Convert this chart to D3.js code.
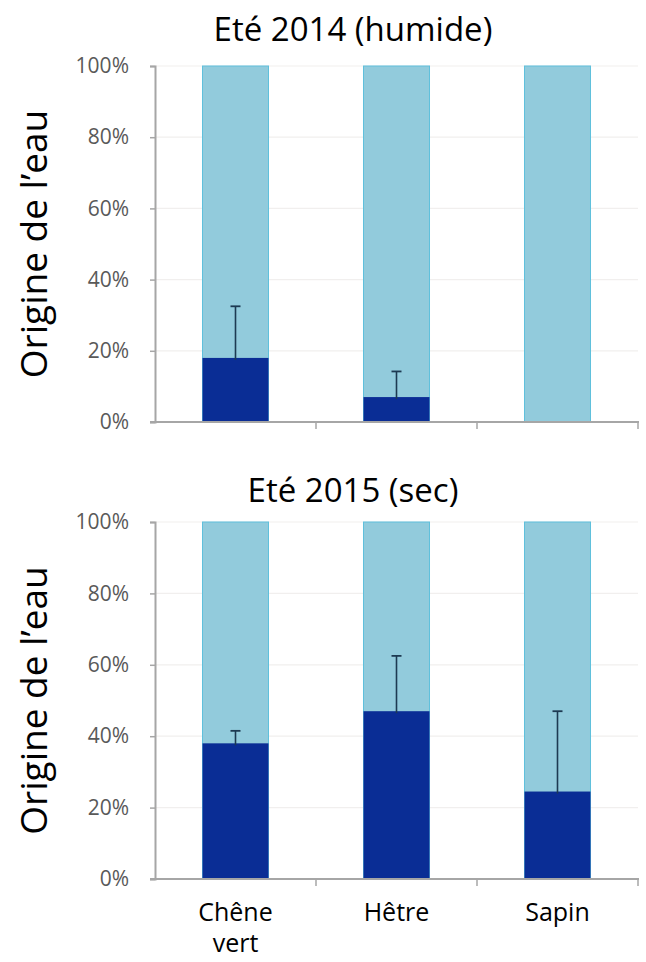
<!DOCTYPE html>
<html>
<head>
<meta charset="utf-8">
<script src="https://cdn.jsdelivr.net/npm/d3@7"></script>
<style>
  html, body { margin: 0; padding: 0; background: #fff; }
  svg { display: block; }
  text { font-family: "Open Sans", "Noto Sans", sans-serif; }
</style>
</head>
<body>
<svg id="chart" width="646" height="962"></svg>
<script>
// Species on the x axis
const categories = ["Chêne vert", "Hêtre", "Sapin"];
// Share of water from the deep source (dark part of each bar), in %
const summer2014 = [18, 7, 0];
const summer2015 = [38, 47, 24.5];
// Top of the error bar, in %
const err2014 = [32.5, 14.2, null];
const err2015 = [41.5, 62.5, 47];
// Y axis ticks
const yTicks = [0, 20, 40, 60, 80, 100];
const titles = ["Eté 2014 (humide)", "Eté 2015 (sec)"];
const yLabel = "Origine de l\u2019eau";

const svg = d3.select("#chart");

const colLight = "#92cbdc";
const colLightEdge = "#5fc0dc";
const colDark = "#0a2d95";
const colErr = "#1d3a52";
const colAxis = "#a6a6a6";
const colTick = "#595959";

const x = d3.scaleBand()
  .domain(categories)
  .range([155, 638])
  .paddingInner(0.59)
  .paddingOuter(0.295);

function panel(cfg) {
  const y = d3.scaleLinear().domain([0, 100]).range([cfg.bottom, cfg.top]);
  const g = svg.append("g");

  // faint horizontal gridlines
  g.selectAll("line.grid")
    .data(yTicks.filter(d => d > 0))
    .join("line")
    .attr("x1", 155).attr("x2", 638)
    .attr("y1", d => y(d)).attr("y2", d => y(d))
    .attr("stroke", "#f1efee").attr("stroke-width", 1.2);

  // full-height light bars
  g.selectAll("rect.light")
    .data(categories)
    .join("rect")
    .attr("x", d => x(d))
    .attr("width", x.bandwidth())
    .attr("y", y(100))
    .attr("height", y(0) - y(100))
    .attr("fill", colLight)
    .attr("stroke", colLightEdge)
    .attr("stroke-width", 1);

  // dark stacked part
  g.selectAll("rect.dark")
    .data(categories)
    .join("rect")
    .attr("x", d => x(d))
    .attr("width", x.bandwidth())
    .attr("y", (d, i) => y(cfg.values[i]))
    .attr("height", (d, i) => y(0) - y(cfg.values[i]))
    .attr("fill", colDark);

  // error bars (upper whisker)
  const eb = g.selectAll("g.err")
    .data(categories.map((c, i) => ({ c, v: cfg.values[i], e: cfg.errs[i] })).filter(d => d.e != null))
    .join("g");
  eb.append("line")
    .attr("x1", d => x(d.c) + x.bandwidth() / 2)
    .attr("x2", d => x(d.c) + x.bandwidth() / 2)
    .attr("y1", d => y(d.v) + 2)
    .attr("y2", d => y(d.e))
    .attr("stroke", colErr).attr("stroke-width", 1.6);
  eb.append("line")
    .attr("x1", d => x(d.c) + x.bandwidth() / 2 - 5)
    .attr("x2", d => x(d.c) + x.bandwidth() / 2 + 5)
    .attr("y1", d => y(d.e))
    .attr("y2", d => y(d.e))
    .attr("stroke", colErr).attr("stroke-width", 1.8);

  // y axis
  const yAxis = d3.axisLeft(y).tickValues(yTicks).tickFormat(d => d + "%").tickSize(5).tickPadding(21);
  const ya = g.append("g").attr("transform", "translate(155,0)").call(yAxis);
  ya.select(".domain").attr("stroke", colAxis).attr("stroke-width", 2);
  ya.selectAll(".tick line").attr("stroke", colAxis).attr("stroke-width", 1.5);
  ya.selectAll(".tick text")
    .attr("fill", colTick)
    .style("font-family", "'Open Sans', 'Noto Sans', sans-serif")
    .style("font-size", "21px");

  // x axis with boundary ticks between categories
  const xa = g.append("g");
  xa.append("line")
    .attr("x1", 150).attr("x2", 639)
    .attr("y1", y(0)).attr("y2", y(0))
    .attr("stroke", colAxis).attr("stroke-width", 2);
  const bounds = categories.map(c => x(c) + x.bandwidth() / 2 + x.step() / 2);
  xa.selectAll("line.b")
    .data(bounds)
    .join("line")
    .attr("x1", d => d).attr("x2", d => d)
    .attr("y1", y(0)).attr("y2", y(0) + 7)
    .attr("stroke", colAxis).attr("stroke-width", 1.5);

  // title
  svg.append("text")
    .attr("x", 353).attr("y", cfg.titleY)
    .attr("text-anchor", "middle")
    .attr("fill", "#000")
    .style("font-size", "33px")
    .text(cfg.title);

  // y axis title
  svg.append("text")
    .attr("transform", `translate(47,${(cfg.top + cfg.bottom) / 2}) rotate(-90)`)
    .attr("text-anchor", "middle")
    .attr("fill", "#000")
    .style("font-size", "37px")
    .text(yLabel);

  return y;
}

panel({ top: 66, bottom: 422, values: summer2014, errs: err2014, title: titles[0], titleY: 41 });
panel({ top: 522, bottom: 879, values: summer2015, errs: err2015, title: titles[1], titleY: 502 });

// category labels below the lower panel
const labelLines = { "Chêne vert": ["Chêne", "vert"], "Hêtre": ["Hêtre"], "Sapin": ["Sapin"] };
const cl = svg.selectAll("text.cat")
  .data(categories)
  .join("text")
  .attr("class", "cat")
  .attr("x", d => x(d) + x.bandwidth() / 2)
  .attr("y", 921)
  .attr("text-anchor", "middle")
  .attr("fill", "#000")
  .style("font-size", "25px");
cl.selectAll("tspan")
  .data(d => labelLines[d].map(t => ({ t, cx: x(d) + x.bandwidth() / 2 })))
  .join("tspan")
  .attr("x", d => d.cx)
  .attr("dy", (d, i) => i === 0 ? 0 : 31)
  .text(d => d.t);
</script>
</body>
</html>
